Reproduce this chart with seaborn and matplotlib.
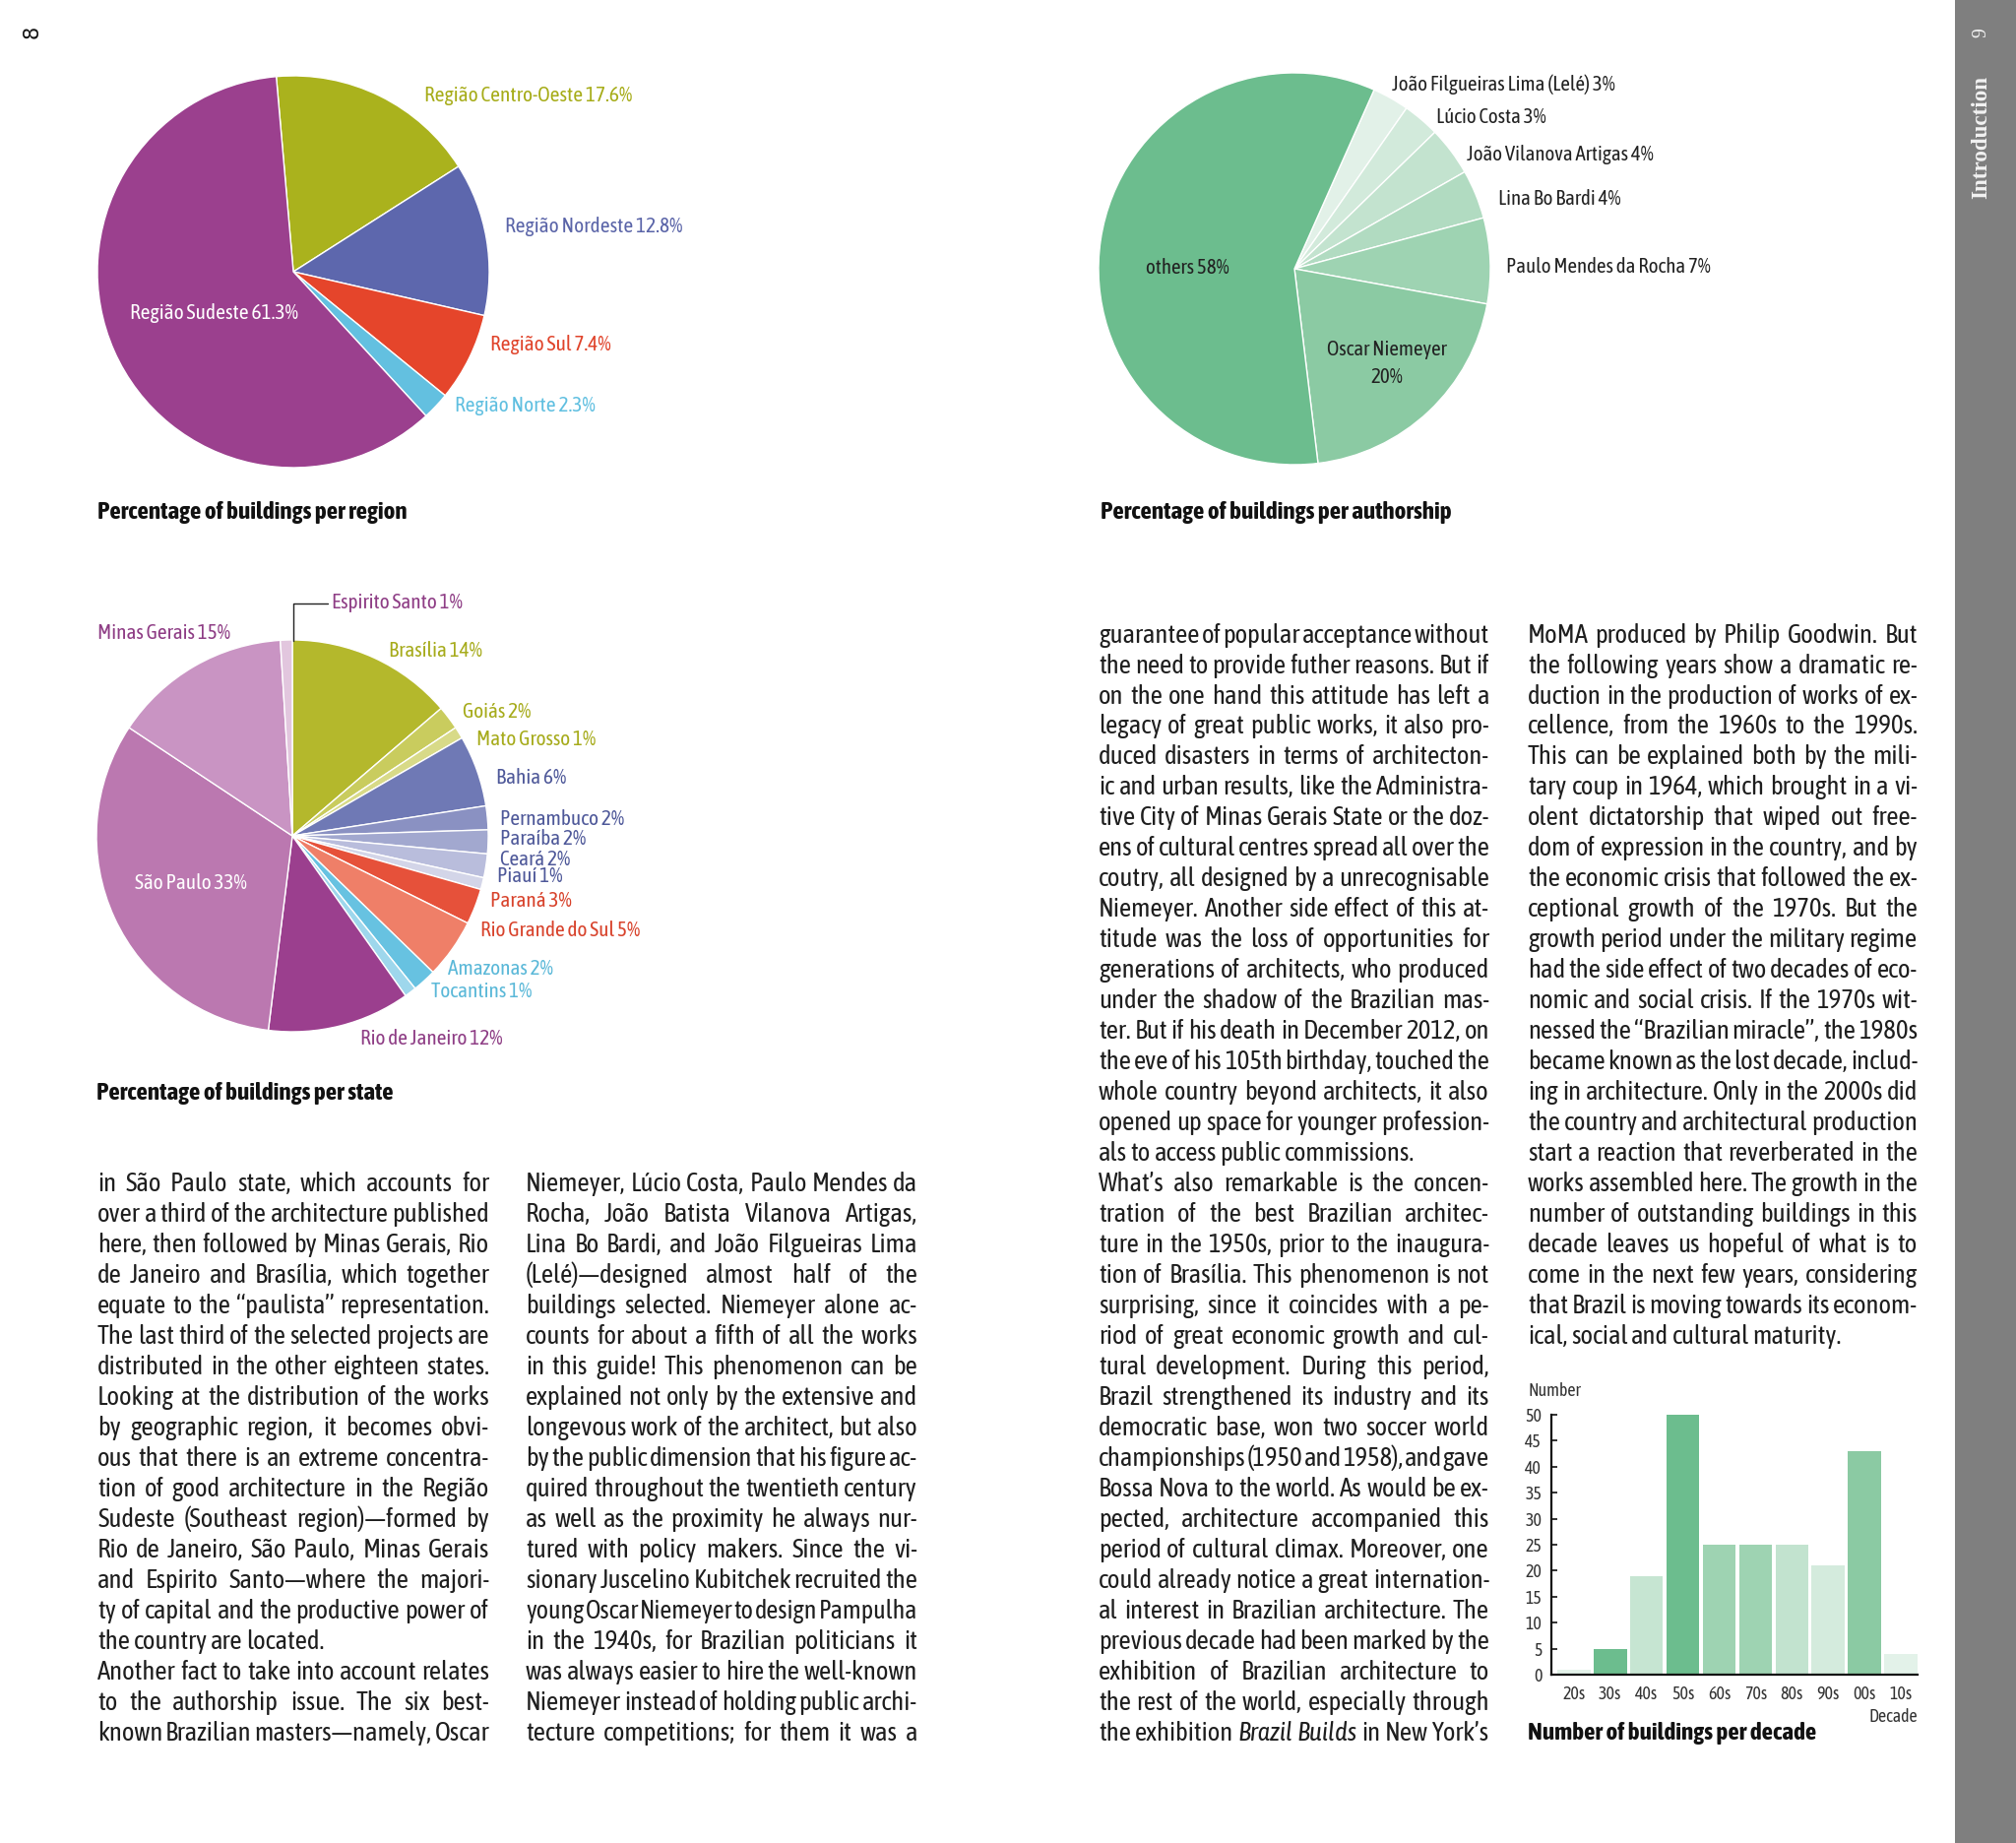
import numpy as np
import pandas as pd
import matplotlib
matplotlib.use("Agg")
import matplotlib.pyplot as plt
import seaborn as sns
from matplotlib import font_manager as fm
from matplotlib.font_manager import FontProperties
from matplotlib.lines import Line2D
from matplotlib.patches import Rectangle

# ---------------- data ----------------
region_labels = ["Região Centro-Oeste 17.6%", "Região Nordeste 12.8%", "Região Sul 7.4%",
                 "Região Norte 2.3%", "Região Sudeste 61.3%"]
region_values = [17.6, 12.8, 7.4, 2.3, 61.3]
region_colors = ["#aab21d", "#5d67ad", "#e5452b", "#63c0e0", "#9b408e"]
region_text_colors = ["#a6ac18", "#5a64a8", "#e0432a", "#5fbfe0", "#ffffff"]

author_labels = ["João Filgueiras Lima (Lelé) 3%", "Lúcio Costa 3%", "João Vilanova Artigas 4%",
                 "Lina Bo Bardi 4%", "Paulo Mendes da Rocha 7%", "Oscar Niemeyer\n20%", "others 58%"]
author_values = [3, 3, 4, 4, 7, 20, 58]
author_colors = ["#e2f1e8", "#d2eadb", "#c3e3cf", "#b1dbc1", "#9ed3b2", "#8bcaa3", "#6cbd8e"]

state_labels = ["Brasília 14%", "Goiás 2%", "Mato Grosso 1%", "Bahia 6%", "Pernambuco 2%",
                "Paraíba 2%", "Ceará 2%", "Piauí 1%", "Paraná 3%", "Rio Grande do Sul 5%",
                "Amazonas 2%", "Tocantins 1%", "Rio de Janeiro 12%", "São Paulo 33%",
                "Minas Gerais 15%", "Espirito Santo 1%"]
state_values = [14, 2, 1, 6, 2, 2, 2, 1, 3, 5, 2, 1, 12, 33, 15, 1]
state_colors = ["#b4b82c", "#c9cc5e", "#d8da88", "#6f79b5", "#8a91c2", "#a2a8cf", "#b9bddc",
                "#d3d5e8", "#e6513a", "#ef7f68", "#67c2e1", "#9ed7ec", "#9b3f8e", "#bb78b0",
                "#c994c3", "#e2c6de"]
state_text_colors = ["#a6ab1b", "#a6ab1b", "#a6ab1b", "#4e5899", "#4e5899", "#4e5899",
                     "#4e5899", "#4e5899", "#d8432c", "#d8432c", "#5ab8d8", "#5ab8d8",
                     "#8e3d85", "#ffffff", "#8e3d85", "#8e3d85"]

decades = ["20s", "30s", "40s", "50s", "60s", "70s", "80s", "90s", "00s", "10s"]
decade_counts = [1, 5, 19, 50, 25, 25, 25, 21, 43, 4]
decade_colors = ["#e3f2e9", "#6cbd8e", "#c6e5d2", "#6cbd8e", "#9ed3b2", "#9ed3b2",
                 "#c2e3cf", "#d4ebdd", "#8bcaa3", "#e3f2e9"]

titles = ["Percentage of buildings per region", "Percentage of buildings per authorship",
          "Percentage of buildings per state", "Number of buildings per decade"]

col1 = [
    "in São Paulo state, which accounts for",
    "over a third of the architecture published",
    "here, then followed by Minas Gerais, Rio",
    "de Janeiro and Brasília, which together",
    "equate to the “paulista” representation.",
    "The last third of the selected projects are",
    "distributed in the other eighteen states.",
    "Looking at the distribution of the works",
    "by geographic region, it becomes obvi-",
    "ous that there is an extreme concentra-",
    "tion of good architecture in the Região",
    "Sudeste (Southeast region)—formed by",
    "Rio de Janeiro, São Paulo, Minas Gerais",
    "and Espirito Santo—where the majori-",
    "ty of capital and the productive power of",
    "the country are located.",
    "Another fact to take into account relates",
    "to the authorship issue. The six best-",
    "known Brazilian masters—namely, Oscar",
]
col1_ends = {15}
col2 = [
    "Niemeyer, Lúcio Costa, Paulo Mendes da",
    "Rocha, João Batista Vilanova Artigas,",
    "Lina Bo Bardi, and João Filgueiras Lima",
    "(Lelé)—designed almost half of the",
    "buildings selected. Niemeyer alone ac-",
    "counts for about a fifth of all the works",
    "in this guide! This phenomenon can be",
    "explained not only by the extensive and",
    "longevous work of the architect, but also",
    "by the public dimension that his figure ac-",
    "quired throughout the twentieth century",
    "as well as the proximity he always nur-",
    "tured with policy makers. Since the vi-",
    "sionary Juscelino Kubitchek recruited the",
    "young Oscar Niemeyer to design Pampulha",
    "in the 1940s, for Brazilian politicians it",
    "was always easier to hire the well-known",
    "Niemeyer instead of holding public archi-",
    "tecture competitions; for them it was a",
]
col2_ends = set()
col3 = [
    "guarantee of popular acceptance without",
    "the need to provide futher reasons. But if",
    "on the one hand this attitude has left a",
    "legacy of great public works, it also pro-",
    "duced disasters in terms of architecton-",
    "ic and urban results, like the Administra-",
    "tive City of Minas Gerais State or the doz-",
    "ens of cultural centres spread all over the",
    "coutry, all designed by a unrecognisable",
    "Niemeyer. Another side effect of this at-",
    "titude was the loss of opportunities for",
    "generations of architects, who produced",
    "under the shadow of the Brazilian mas-",
    "ter. But if his death in December 2012, on",
    "the eve of his 105th birthday, touched the",
    "whole country beyond architects, it also",
    "opened up space for younger profession-",
    "als to access public commissions.",
    "What’s also remarkable is the concen-",
    "tration of the best Brazilian architec-",
    "ture in the 1950s, prior to the inaugura-",
    "tion of Brasília. This phenomenon is not",
    "surprising, since it coincides with a pe-",
    "riod of great economic growth and cul-",
    "tural development. During this period,",
    "Brazil strengthened its industry and its",
    "democratic base, won two soccer world",
    "championships (1950 and 1958), and gave",
    "Bossa Nova to the world. As would be ex-",
    "pected, architecture accompanied this",
    "period of cultural climax. Moreover, one",
    "could already notice a great internation-",
    "al interest in Brazilian architecture. The",
    "previous decade had been marked by the",
    "exhibition of Brazilian architecture to",
    "the rest of the world, especially through",
    "the exhibition *Brazil Builds* in New York’s",
]
col3_ends = {17}
col4 = [
    "MoMA produced by Philip Goodwin. But",
    "the following years show a dramatic re-",
    "duction in the production of works of ex-",
    "cellence, from the 1960s to the 1990s.",
    "This can be explained both by the mili-",
    "tary coup in 1964, which brought in a vi-",
    "olent dictatorship that wiped out free-",
    "dom of expression in the country, and by",
    "the economic crisis that followed the ex-",
    "ceptional growth of the 1970s. But the",
    "growth period under the military regime",
    "had the side effect of two decades of eco-",
    "nomic and social crisis. If the 1970s wit-",
    "nessed the “Brazilian miracle”, the 1980s",
    "became known as the lost decade, includ-",
    "ing in architecture. Only in the 2000s did",
    "the country and architectural production",
    "start a reaction that reverberated in the",
    "works assembled here. The growth in the",
    "number of outstanding buildings in this",
    "decade leaves us hopeful of what is to",
    "come in the next few years, considering",
    "that Brazil is moving towards its econom-",
    "ical, social and cultural maturity.",
]
col4_ends = {23}

# ---------------- setup ----------------
sns.set_theme(style="white")
plt.rcParams["font.family"] = ["DejaVu Sans"]

entries = fm.fontManager.ttflist
names = {f.name for f in entries}
if "Liberation Sans Narrow" in names:
    NARROW = dict(family="Liberation Sans Narrow")
elif any(("Condensed" in f.name) for f in entries):
    nm = [f.name for f in entries if "Condensed" in f.name][0]
    NARROW = dict(family=nm)
elif any(f.name == "DejaVu Sans" and "condensed" in str(f.stretch) for f in entries):
    NARROW = dict(family="DejaVu Sans", stretch="condensed")
else:
    NARROW = dict(family="Liberation Sans")
SERIF = "Liberation Serif" if "Liberation Serif" in names else "DejaVu Serif"

W, H = 2048, 1872
fig = plt.figure(figsize=(W / 100, H / 100), dpi=100)
fig.patch.set_facecolor("white")
renderer = fig.canvas.get_renderer()


def fx(x):
    return x / W


def fy(y):
    return 1 - y / H


def FP(size, weight="normal", style="normal", family=None):
    kw = dict(NARROW) if family is None else dict(family=family)
    return FontProperties(size=size, weight=weight, style=style, **kw)


def tw(s, fp):
    w, h, d = renderer.get_text_width_height_descent(s, fp, ismath=False)
    return w


def fit(s, target, weight="normal", family=None):
    return 10 * target / tw(s, FP(10, weight, family=family))


def T(x, y, s, fp, **kw):
    return fig.text(fx(x), fy(y), s, fontproperties=fp, **kw)


def ax_px(x0, y0, x1, y1):
    return fig.add_axes([fx(x0), fy(y1), (x1 - x0) / W, (y1 - y0) / H])


# ---------------- sidebar ----------------
fig.add_artist(Rectangle((fx(1986), 0), (W - 1986) / W, 1, transform=fig.transFigure,
                         facecolor="#7f7f7f", edgecolor="none", zorder=0))
s_intro = fit("Introduction", 125, "bold", SERIF)
T(2013, 140, "Introduction", FP(s_intro, "bold", family=SERIF), color="#f2f2f2",
  rotation=90, ha="center", va="center")
T(2013, 33, "9", FP(s_intro * 0.85, family=SERIF), color="#f2f2f2",
  rotation=90, ha="center", va="center")
T(33, 32, "8", FP(15, family="DejaVu Sans"), color="#111111", rotation=90,
  ha="center", va="center")

# ---------------- pies ----------------
def draw_pie(cx, cy, r, values, colors, start):
    m = 1.02
    ax = ax_px(cx - r * m, cy - r * m, cx + r * m, cy + r * m)
    ax.pie(values, colors=colors, startangle=start, counterclock=False, radius=1,
           wedgeprops=dict(edgecolor="white", linewidth=1.0))
    ax.set_xlim(-m, m)
    ax.set_ylim(-m, m)
    ax.set_aspect("equal")
    ax.axis("off")
    return ax


draw_pie(298, 276, 199, region_values, region_colors, 95)
draw_pie(1315, 273, 199, author_values, author_colors, 66)
draw_pie(297, 849, 199, state_values, state_colors, 90)

# region labels
s_reg = fit(region_labels[0], 212)
reg_pos = [(431, 97), (513, 230), (498, 350), (462, 412), (132, 318)]
for lab, (x, y), c in zip(region_labels, reg_pos, region_text_colors):
    T(x, y, lab, FP(s_reg), color=c, ha="left", va="center")

# author labels
s_aut = fit(author_labels[4], 207)
aut_pos = [(1414, 86), (1459, 119), (1490, 157), (1522, 202), (1530, 271)]
for lab, (x, y) in zip(author_labels[:5], aut_pos):
    T(x, y, lab, FP(s_aut), color="#222222", ha="left", va="center")
T(1409, 369, author_labels[5], FP(s_aut), color="#222222", ha="center", va="center",
  linespacing=1.45)
T(1206, 272, author_labels[6], FP(s_aut), color="#222222", ha="center", va="center")

# state labels
s_st = fit(state_labels[9], 163)
st_pos = [(395, 661), (470, 723), (484, 751), (504, 790), (508, 832), (508, 852),
          (508, 873), (505, 890), (498, 915), (488, 945), (455, 984), (438, 1007),
          (366, 1055), (137, 897), (99, 643), (337, 612)]
for lab, (x, y), c in zip(state_labels, st_pos, state_text_colors):
    T(x, y, lab, FP(s_st), color=c, ha="left", va="center")
fig.add_artist(Line2D([fx(298), fx(298), fx(333)], [fy(651), fy(613), fy(613)],
                      transform=fig.transFigure, color="#222222", lw=1.0))

# titles
s_tit = fit(titles[0], 312, "bold")
T(99, 520, titles[0], FP(s_tit, "bold"), color="#111111", ha="left", va="center")
T(1118, 520, titles[1], FP(s_tit, "bold"), color="#111111", ha="left", va="center")
T(98, 1110, titles[2], FP(s_tit, "bold"), color="#111111", ha="left", va="center")
T(1552, 1760, titles[3], FP(s_tit, "bold"), color="#111111", ha="left", va="center")

# ---------------- bar chart ----------------
axb = ax_px(1576, 1437, 1948, 1701)
df = pd.DataFrame({"decade": decades, "count": decade_counts})
sns.barplot(data=df, x="decade", y="count", hue="decade", palette=decade_colors,
            legend=False, saturation=1, width=0.91, linewidth=0, ax=axb)
axb.set_xlim(-0.62, 9.46)
axb.set_ylim(0, 50)
axb.set_yticks(range(0, 51, 5))
axb.set_xlabel("")
axb.set_ylabel("")
axb.set_facecolor("none")
sns.despine(ax=axb)
for sp in ["left", "bottom"]:
    axb.spines[sp].set_color("#111111")
    axb.spines[sp].set_linewidth(1.6)
s_tick = fit("20s", 23)
axb.tick_params(axis="y", direction="in", length=4, width=1.2, color="#111111",
                pad=7, left=True)
axb.tick_params(axis="x", length=0, pad=8)
for lab in axb.get_xticklabels() + axb.get_yticklabels():
    lab.set_fontproperties(FP(s_tick))
    lab.set_color("#333333")
T(1552, 1413, "Number", FP(s_tick), color="#333333", ha="left", va="center")
T(1948, 1744, "Decade", FP(s_tick), color="#333333", ha="right", va="center")

# ---------------- body text ----------------
s_body = fit(col1[1], 400)
fp_reg = FP(s_body)
fp_it = FP(s_body, style="italic")
space_w = tw("a a", fp_reg) - tw("aa", fp_reg)
base_off = 0.30 * s_body * 100 / 72


def draw_block(lines, ends, x0, x1, y0, dy):
    width = x1 - x0
    for i, line in enumerate(lines):
        words = line.split(" ")
        styled = []
        italic = False
        for w in words:
            st = italic
            if w.startswith("*"):
                st = True
                w = w[1:]
                italic = True
            if w.endswith("*"):
                w = w[:-1]
                italic = False
            styled.append((w, st))
        size = s_body
        fps = [FP(size, style="italic" if it else "normal") for _, it in styled]
        widths = [tw(w, f) for (w, _), f in zip(styled, fps)]
        n = len(styled)
        total = sum(widths)
        if total + 0.4 * space_w * (n - 1) > width:
            size = s_body * (width - 0.4 * space_w * (n - 1)) / total
            fps = [FP(size, style="italic" if it else "normal") for _, it in styled]
            widths = [tw(w, f) for (w, _), f in zip(styled, fps)]
            total = sum(widths)
        if i in ends or n == 1:
            gap = space_w
        else:
            gap = (width - total) / (n - 1)
        yb = y0 + i * dy + base_off
        x = x0
        for (w, _), f, wd in zip(styled, fps, widths):
            T(x, yb, w, f, color="#1e1e1e", ha="left", va="baseline")
            x += wd + gap


draw_block(col1, col1_ends, 99, 497, 1202, 30.98)
draw_block(col2, col2_ends, 534, 932, 1202, 30.98)
draw_block(col3, col3_ends, 1116, 1513, 644.5, 30.98)
draw_block(col4, col4_ends, 1552, 1948, 644.5, 30.98)

fig.savefig("out.png", dpi=100, facecolor="white")
